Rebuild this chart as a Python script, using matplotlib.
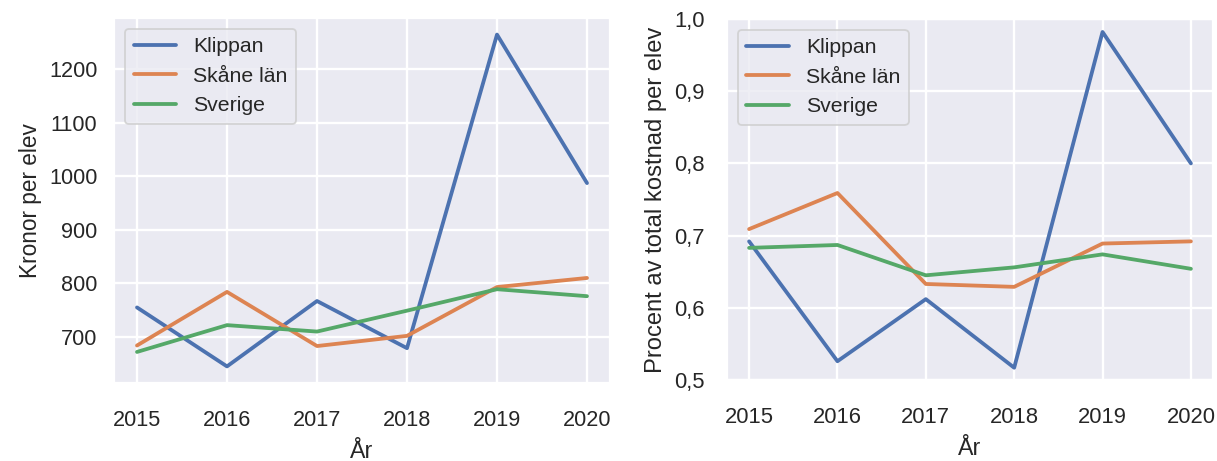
import matplotlib
matplotlib.use("Agg")
import matplotlib.pyplot as plt
import seaborn as sns
from matplotlib.ticker import FuncFormatter

# data
years = [2015, 2016, 2017, 2018, 2019, 2020]
series_names = ["Klippan", "Skåne län", "Sverige"]

kronor_klippan = [755, 645, 767, 679, 1264, 987]
kronor_skane = [684, 784, 683, 702, 793, 810]
kronor_sverige = [672, 722, 710, 749, 789, 776]

andel_klippan = [0.692, 0.526, 0.612, 0.517, 0.982, 0.800]
andel_skane = [0.709, 0.759, 0.633, 0.629, 0.689, 0.692]
andel_sverige = [0.683, 0.687, 0.645, 0.656, 0.674, 0.654]

sns.set_theme(style="darkgrid")
plt.rcParams["font.family"] = ["Liberation Sans", "DejaVu Sans"]
plt.rcParams["grid.linewidth"] = 1.3

fig, (ax1, ax2) = plt.subplots(1, 2, figsize=(1217 / 130, 461 / 130), dpi=130)

# left: kronor per elev
for name, values in zip(series_names, [kronor_klippan, kronor_skane, kronor_sverige]):
    ax1.plot(years, values, label=name, linewidth=2.1)
ax1.set_xlabel("År", fontsize=12.8, labelpad=5)
ax1.set_ylabel("Kronor per elev", fontsize=12.5)
ax1.set_yticks([700, 800, 900, 1000, 1100, 1200])
ax1.tick_params(axis="both", labelsize=12)
ax1.tick_params(axis="x", pad=9)
ax1.legend(loc="upper left", fontsize=11.8)

# right: andel av total kostnad
for name, values in zip(series_names, [andel_klippan, andel_skane, andel_sverige]):
    ax2.plot(years, values, label=name, linewidth=2.1)
ax2.set_xlabel("År", fontsize=12.8, labelpad=5)
ax2.set_ylabel("Procent av total kostnad per elev", fontsize=13.2)
ax2.set_ylim(0.5, 1.0)
ax2.yaxis.set_major_formatter(FuncFormatter(lambda v, p: f"{v:.1f}".replace(".", ",")))
ax2.tick_params(axis="both", labelsize=12.2)
ax2.tick_params(axis="x", pad=9)
ax2.tick_params(axis="y", pad=6.5)
ax2.legend(loc="upper left", fontsize=11.8)

W, H = 1217, 461
ax1.set_position([114.5 / W, (H - 383) / H, 495 / W, 365 / H])
ax2.set_position([727 / W, (H - 380) / H, 486 / W, 361 / H])

fig.savefig("out.png", dpi=130)
